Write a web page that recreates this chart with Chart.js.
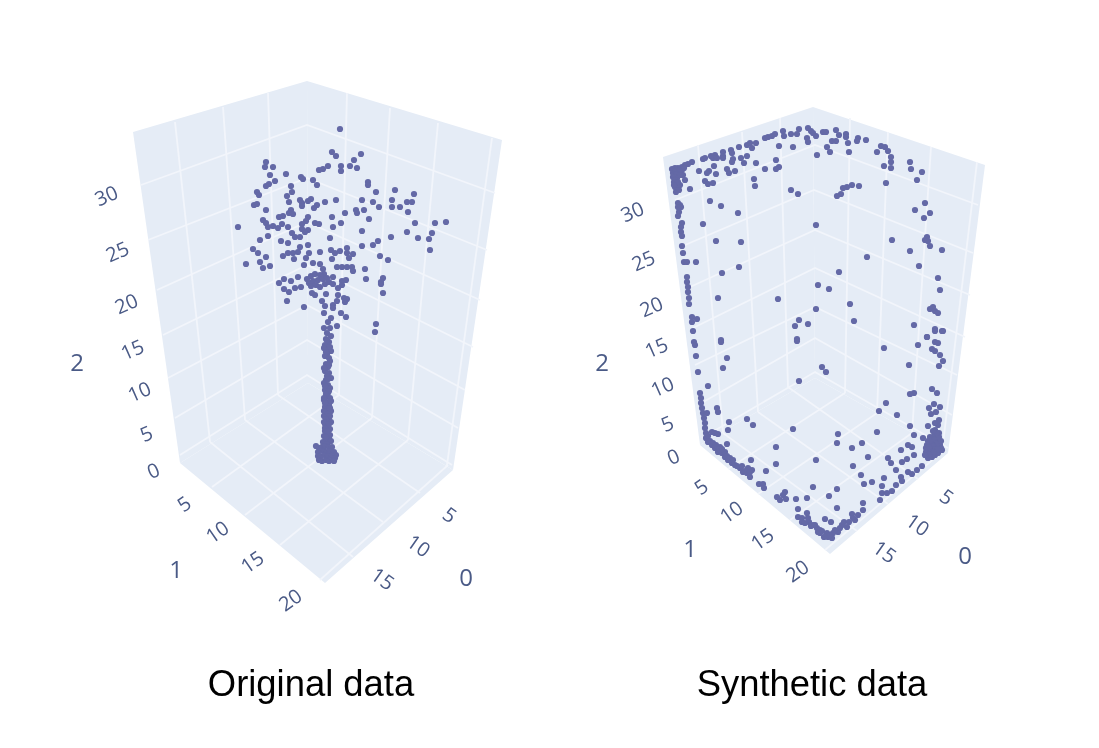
<!DOCTYPE html>
<html><head><meta charset="utf-8">
<script src="https://cdn.jsdelivr.net/npm/chart.js@4"></script>
<style>
html,body{margin:0;padding:0;background:#fff;width:1099px;height:748px;overflow:hidden}
.p{position:absolute;top:0;height:748px;filter:blur(0.45px)}
#a{left:0;width:550px}#b{left:550px;width:549px}
</style></head><body>
<div class="p" id="a"><canvas id="ca"></canvas></div>
<div class="p" id="b"><canvas id="cb"></canvas></div>
<script>
const originalPoints=[[340,129],[332,152],[336,156],[361,154],[354,160],[350,166],[357,168],[341,166],[341,171],[328,166],[323,169],[319,170],
[266,162],[265,167],[273,167],[270,175],[286,174],[275,181],[269,184],[266,186],[301,177],[303,179],[313,180],[317,185],[291,186],[292,192],[287,196],[257,192],[259,195],
[368,182],[368,185],[376,192],[395,190],[414,194],[392,200],[407,202],[412,202],[362,200],[373,202],[379,207],[392,207],[400,207],[408,212],[336,200],[325,202],[311,199],[308,201],[300,200],[302,203],[302,206],[289,202],[317,205],[314,208],[254,205],[257,204],[266,210],[291,210],[289,213],[293,214],[283,216],[279,217],
[356,210],[357,213],[364,210],[345,213],[369,219],[332,217],[308,217],[306,221],[315,223],[319,224],[341,223],[333,227],[362,231],[415,223],[435,223],[446,222],[407,232],[432,233],[391,237],[418,238],[429,239],[430,250],
[263,220],[266,223],[268,227],[273,226],[278,228],[282,224],[288,227],[302,224],[302,229],[308,230],[305,232],[292,233],[295,237],[300,237],[330,238],[238,227],[268,236],[260,240],[281,241],[288,243],[308,245],[362,246],[373,245],[378,241],
[253,249],[258,253],[266,257],[300,247],[298,252],[293,253],[288,253],[283,256],[294,259],[309,253],[306,258],[320,252],[331,250],[340,251],[335,253],[347,248],[347,253],[353,254],[349,258],[332,259],[380,256],[388,260],
[260,262],[246,264],[263,268],[270,266],[304,265],[313,263],[320,264],[337,267],[342,267],[347,267],[352,267],[353,271],[365,269],[323,269],[324,274],[366,279],
[307,279],[311,276],[315,274],[320,275],[309,283],[313,281],[318,280],[323,279],[327,278],[311,286],[316,285],[320,287],[325,284],[329,282],
[298,277],[291,281],[284,279],[279,283],[284,289],[289,292],[295,288],[301,287],[287,301],[304,307],
[333,277],[342,281],[346,280],[333,284],[342,285],[338,288],[383,278],[381,282],[381,284],[383,293],
[312,293],[315,295],[326,294],[338,295],[344,298],[347,299],[345,302],[337,301],[322,301],[325,306],[333,305],[333,308],[324,313],[341,313],[346,317],[331,318],[328,322],[337,326],[324,328],[330,328],[327,333],[331,336],[376,324],[375,332],
[326,339],[329,342],[325,345],[328,349],[331,351],[327,354],[325,356],[329,358],[330,361],[326,364],[328,367],[325,371],[329,373],[327,376],[331,378],[326,380],[324,383],[328,385],[330,388],[325,390],[328,393],[326,396],[330,398],[324,400],[327,402],[329,405],[325,407],[328,409],[331,411],[326,413],[324,416],[329,418],[327,420],[331,422],[325,424],[328,426],[330,429],[325,431],[327,433],[330,435],[324,436],[329,438],[326,440],[331,441],[323,442],[327,444],
[327,340],[324,348],[330,347],[326,352],[329,365],[324,368],[328,379],[325,386],[329,391],[326,394],[324,398],[331,401],[325,403],[330,408],[324,411],[328,414],[330,416],[326,419],[324,422],[329,424],[325,428],[328,431],[326,437],
[316,446],[319,448],[322,447],[325,446],[329,447],[332,447],[318,452],[321,450],[324,451],[327,452],[330,451],[334,452],[336,455],[318,456],[321,456],[325,455],[328,456],[332,456],[335,458],[319,460],[322,461],[326,460],[329,461],[333,460],[334,461]];

const syntheticPoints=[[692,162],[688,164],[685,165],[682,167],[678,168],[675,168],[672,169],[673,173],[673,177],[674,182],[675,187],[676,192],[678,187],[680,185],[678,173],[682,170],[677,178],[685,180],[683,175],[690,189],
[676,171],[680,170],[684,168],[674,175],[677,174],[680,175],[675,180],[678,182],[674,185],[677,190],[679,190],
[699,171],[703,159],[705,158],[711,156],[715,155],[713,158],[717,158],[723,152],[723,156],[723,158],[731,150],[732,153],[739,147],[747,145],[750,143],[756,143],[752,148],[747,156],[741,158],[744,163],[733,159],[732,162],[756,163],[714,166],[709,171],[707,173],[716,174],[727,169],[729,173],[735,171],[705,181],[708,184],[713,183],
[765,138],[768,137],[772,136],[775,134],[783,131],[784,136],[791,134],[797,134],[799,129],[808,128],[811,131],[813,133],[816,136],[807,138],[808,142],[823,132],[826,132],[836,130],[839,135],[846,134],[846,137],[832,141],[836,141],[848,143],[858,138],[857,141],[866,140],[827,147],[830,152],[849,152],[817,155],[793,147],[779,146],[776,160],[779,167],[776,169],[765,169],[754,179],[755,186],
[881,146],[885,147],[888,151],[877,152],[891,157],[891,162],[884,166],[891,168],[910,162],[911,169],[922,172],[917,180],[886,183],[859,186],[852,185],[847,187],[843,188],[841,194],[837,196],[791,190],[798,194],
[710,201],[721,206],[738,213],[703,224],[716,241],[741,242],[739,267],[722,273],[718,298],[696,262],
[678,203],[680,205],[678,207],[681,207],[679,212],[678,216],[682,223],[681,227],[681,232],[682,236],[682,246],[683,253],[684,262],[687,262],[687,277],[687,282],[688,287],[688,292],[689,298],[689,304],[692,317],[692,322],[697,319],[693,331],
[816,225],[925,203],[915,210],[930,213],[924,218],[892,240],[927,237],[925,240],[928,241],[930,246],[942,250],[910,251],[867,257],[919,266],[839,272],[938,278],[818,285],[829,289],[940,290],[778,299],[850,304],[816,309],[930,309],[933,307],[935,311],[938,313],[799,320],[854,321],[808,324],[795,326],[914,325],[935,329],[942,331],[927,337],[721,340],[797,339],
[694,342],[695,345],[696,356],[698,372],[721,342],[727,358],[723,368],[708,386],
[700,393],[701,398],[701,403],[702,408],[703,413],[707,413],[704,418],[705,423],[705,428],[706,433],[707,438],[708,442],[712,445],[715,448],[718,452],[722,453],[725,457],[728,460],[732,463],[735,465],[740,468],[743,472],[747,473],[750,477],[752,470],[748,468],[712,432],[715,433],[718,434],[720,447],[725,452],[717,408],[718,412],[729,422],[728,430],[727,444],[747,419],[753,425],[751,460],[766,471],[776,447],[776,464],[793,429],
[706,438],[708,436],[710,441],[713,443],[716,445],[719,449],[722,449],[727,456],[730,458],[733,460],[737,466],[742,466],[745,471],[750,472],
[759,484],[763,484],[764,488],[777,497],[780,500],[785,492],[783,495],[786,499],[796,499],[807,498],[798,509],[798,517],[802,518],[807,513],[809,522],[813,525],[817,528],[820,530],[824,537],[827,533],[832,538],[833,533],[838,532],[825,519],[831,522],[842,525],[847,527],[852,514],[855,520],[858,515],[863,510],[863,503],[802,522],[805,523],[820,533],[828,537],
[808,518],[811,526],[815,525],[818,532],[822,531],[826,536],[830,535],[835,530],[840,528],[844,522],[849,522],[853,518],
[813,487],[829,496],[837,489],[837,508],[816,460],[837,443],[838,434],[852,448],[862,443],[868,457],[853,466],[861,475],[864,484],[872,482],[877,432],[879,411],[886,403],[897,415],[910,426],[914,435],[901,450],[908,445],[912,447],[888,458],[891,463],[896,470],[902,462],[907,459],[914,455],[884,478],[882,486],[880,500],[882,493],[887,493],[892,491],[896,485],[901,477],[902,481],[908,472],[912,474],[917,470],[922,466],
[928,458],[932,457],[935,455],[938,453],[942,450],[930,450],[933,448],[937,447],[940,445],[927,445],[933,442],[938,438],[930,437],[923,438],[935,435],[939,433],[935,430],[938,425],[939,420],[935,423],[928,426],[931,414],[929,408],[936,412],[934,404],[940,407],[937,393],[932,389],[914,393],[910,394],[909,365],[918,345],[927,337],[935,342],[938,343],[932,349],[935,351],[940,355],[943,361],[939,366],[884,348],[935,331],[943,331],
[797,341],[822,367],[826,372],[799,381],
[930,445],[934,446],[937,442],[933,437],[936,449],[926,452],[930,454],[941,448],[928,441],[931,440],[935,439],[938,443],[941,441],[926,448],[925,455],[929,447],[934,452],[938,449],[939,437],[937,433],[933,431]];

const originalWalls=[[[133,132],[307,81],[308,383],[180,463]],[[307,81],[502,140],[453,470],[308,383]],[[180,463],[308,383],[453,470],[325,583]]];
const syntheticWalls=[[[663,157],[813,107],[815,378],[700,445]],[[813,107],[985,165],[948,453],[815,378]],[[700,445],[815,378],[948,453],[830,554]]];

const originalGrid=[
[[268,93],[278,395]],[[223,107],[245,420]],[[175,122],[210,442]],
[[347,93],[339,395]],[[390,108],[372,418]],[[438,123],[408,440]],[[492,138],[447,465]],
[[141,185],[307,125],[495,193]],[[148,240],[307,178],[487,250]],[[157,290],[307,222],[480,300]],[[163,335],[307,265],[473,347]],[[168,378],[307,305],[465,390]],[[175,418],[307,340],[458,428]],[[180,455],[307,375],[452,465]],
[[210,442],[353,557]],[[245,420],[383,522]],[[278,395],[420,493]],
[[212,487],[339,395]],[[245,515],[372,418]],[[280,545],[408,440]],[[320,580],[448,465]]];
const syntheticGrid=[
[[780,118],[788,387]],[[742,132],[758,412]],[[698,145],[723,433]],
[[850,118],[845,393]],[[888,132],[877,413]],[[931,147],[912,433]],[[977,162],[942,452]],
[[675,200],[815,145],[978,205]],[[685,245],[814,190],[973,253]],[[690,287],[815,230],[970,295]],[[693,328],[815,268],[965,337]],[[695,365],[815,307],[957,375]],[[698,405],[815,338],[952,415]],[[702,438],[815,372],[948,448]],
[[723,433],[857,531]],[[758,412],[888,504]],[[788,387],[918,479]],
[[728,469],[845,393]],[[758,494],[877,413]],[[790,520],[912,433]],[[825,550],[942,452]]];

const zTickLabels=['30','25','20','15','10','5','0'];
const yTickLabels=['5','10','15','20'];
const xTickLabels=['5','10','15'];
const axisNames=['2','1','0'];
const originalZAnchors=[[107,197],[118,253],[127,305],[133,351],[140,393],[147,435],[154,472]];
const originalYAnchors=[[185,505],[218,533],[253,563],[291,601]];
const originalXAnchors=[[449,516],[418,547],[382,580]];
const originalNameAnchors=[[77,364],[176,571],[466,579]];
const syntheticZAnchors=[[633,213],[644,262],[652,308],[657,349],[663,388],[668,425],[674,458]];
const syntheticYAnchors=[[702,488],[732,513],[763,540],[798,572]];
const syntheticXAnchors=[[946,498],[917,526],[884,553]];
const syntheticNameAnchors=[[602,364],[690,550],[965,557]];
const captions=['Original data','Synthetic data'];
const captionAnchors=[[311,686],[812,686]];

const TICK='#4a5a86';
const textPlugin={id:'anchoredText',afterDatasetsDraw(c){
  const g=c.ctx,xs=c.scales.x,ys=c.scales.y;
  for(const t of c.options.plugins.anchoredText.groups){
    t.anchors.forEach((p,i)=>{
      g.save();
      g.translate(xs.getPixelForValue(p[0]),ys.getPixelForValue(p[1]));
      g.rotate(t.rot*Math.PI/180);
      g.font=t.font;g.fillStyle=t.color;g.textAlign='center';g.textBaseline='middle';
      g.fillText(t.labels[i],0,0);
      g.restore();
    });
  }
}};
function xy(a){return a.map(p=>({x:p[0],y:p[1]}));}
function panel(id,xmin,xmax,pts,walls,grid,za,ya,xa,na,capt,capa){
  const ds=[];
  walls.forEach(w=>ds.push({type:'line',order:3,data:xy(w.concat([w[0]])),borderWidth:0,borderColor:'#e5ecf6',backgroundColor:'#e5ecf6',fill:'shape',pointRadius:0,tension:0}));
  grid.forEach(l=>ds.push({type:'line',order:2,data:xy(l),borderColor:'#f2f5fb',borderWidth:1.8,fill:false,pointRadius:0,tension:0}));
  ds.push({type:'scatter',order:1,data:xy(pts),pointRadius:3.1,pointBorderWidth:0,backgroundColor:'#6469a6',pointBackgroundColor:'#6469a6'});
  return new Chart(document.getElementById(id),{
    data:{datasets:ds},plugins:[textPlugin],
    options:{responsive:true,maintainAspectRatio:false,animation:false,layout:{padding:0,autoPadding:false},
      scales:{x:{type:'linear',display:false,min:xmin,max:xmax},y:{type:'linear',display:false,min:0,max:748,reverse:true}},
      plugins:{legend:{display:false},tooltip:{enabled:false},title:{display:false},
        anchoredText:{groups:[
          {anchors:za,labels:zTickLabels,rot:-24,font:'20px "Open Sans"',color:TICK},
          {anchors:ya,labels:yTickLabels,rot:-35,font:'20px "Open Sans"',color:TICK},
          {anchors:xa,labels:xTickLabels,rot:35,font:'20px "Open Sans"',color:TICK},
          {anchors:na,labels:axisNames,rot:0,font:'24px "Open Sans"',color:TICK},
          {anchors:capa,labels:capt,rot:0,font:'36.4px "Liberation Sans"',color:'#000'}
        ]}}}
  });
}
panel('ca',0,550,originalPoints,originalWalls,originalGrid,originalZAnchors,originalYAnchors,originalXAnchors,originalNameAnchors,[captions[0]],[captionAnchors[0]]);
panel('cb',550,1099,syntheticPoints,syntheticWalls,syntheticGrid,syntheticZAnchors,syntheticYAnchors,syntheticXAnchors,syntheticNameAnchors,[captions[1]],[captionAnchors[1]]);
</script></body></html>
